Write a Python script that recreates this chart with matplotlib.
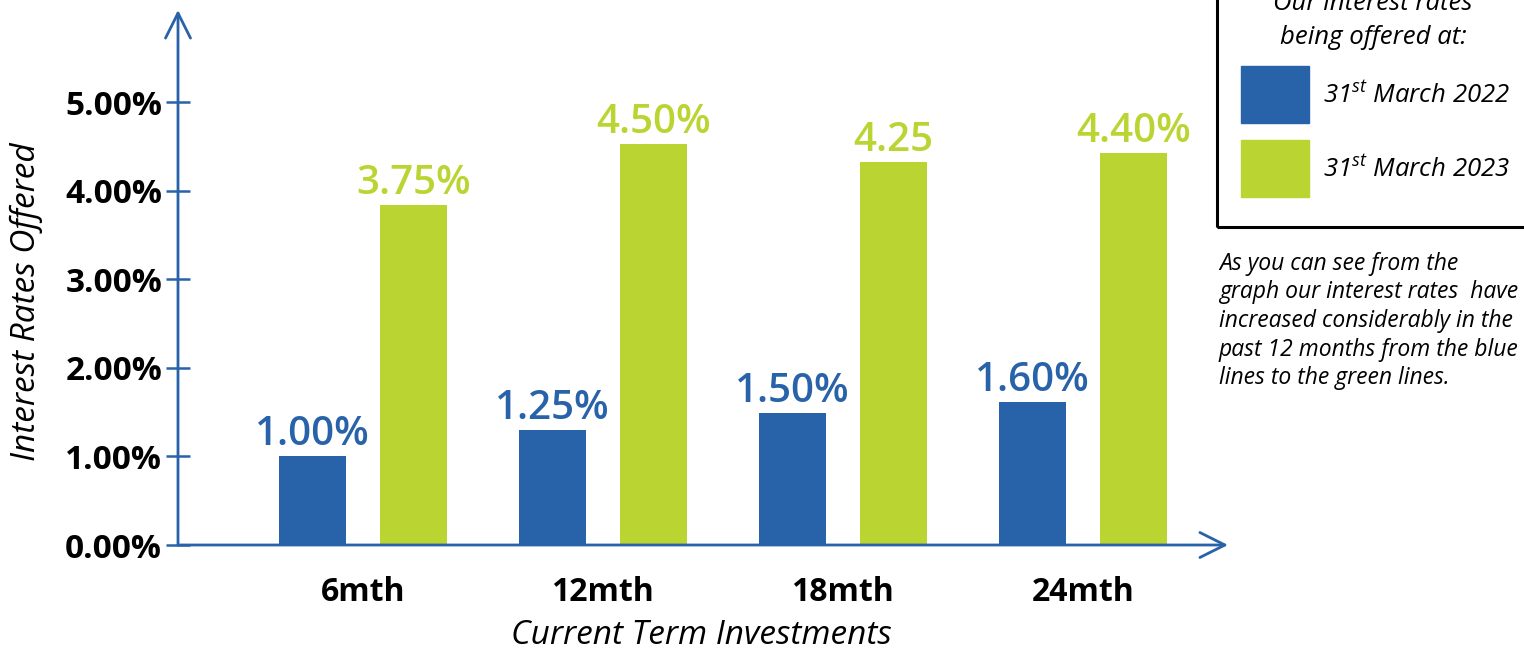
import matplotlib
matplotlib.use("Agg")
import matplotlib.pyplot as plt
from matplotlib.patches import Rectangle

# data
terms = ['6mth', '12mth', '18mth', '24mth']
rates_2022 = [1.00, 1.30, 1.49, 1.61]
rates_2023 = [3.84, 4.53, 4.32, 4.42]
labels_2022 = ['1.00%', '1.25%', '1.50%', '1.60%']
labels_2023 = ['3.75%', '4.50%', '4.25', '4.40%']
yticks = [0, 1, 2, 3, 4, 5]

blue = '#2862a9'
green = '#bad532'
FONT = 'Open Sans'

plt.rcParams['font.family'] = FONT
plt.rcParams['mathtext.fontset'] = 'custom'
plt.rcParams['mathtext.rm'] = 'Open Sans:italic'
plt.rcParams['mathtext.it'] = 'Open Sans:italic'

W, H = 1524, 655
fig = plt.figure(figsize=(W / 100, H / 100), dpi=100)


def fx(px):
    return px / W


def fy(py):
    return 1 - py / H


# axes box in pixels: left 178, right 1228, bottom 545, top 10
ax = fig.add_axes([fx(178), fy(545), fx(1228) - fx(178), fy(10) - fy(545)])
ax.set_xlim(-0.77, 3.605)
ax.set_ylim(0, 6.04)
for s in ax.spines.values():
    s.set_visible(False)

x = list(range(len(terms)))
bw = 0.28
off = 0.21
xb = [i - off for i in x]
xg = [i + off for i in x]
ax.bar(xb, rates_2022, bw, color=blue)
ax.bar(xg, rates_2023, bw, color=green)

for xi, v, lab in zip(xb, rates_2022, labels_2022):
    ax.annotate(lab, (xi, v), xytext=(0, 8), textcoords='offset points',
                ha='center', va='baseline', color=blue, fontsize=29,
                fontweight='semibold')
for xi, v, lab in zip(xg, rates_2023, labels_2023):
    ax.annotate(lab, (xi, v), xytext=(0, 8), textcoords='offset points',
                ha='center', va='baseline', color=green, fontsize=29,
                fontweight='semibold')

# axis arrows
akw = dict(arrowstyle='->,head_length=0.9,head_width=0.45', color=blue,
           lw=2.0, mutation_scale=20, shrinkA=0, shrinkB=0)
ax.annotate('', xy=(0, 1), xytext=(0, 0), xycoords='axes fraction',
            arrowprops=akw, annotation_clip=False)
ax.annotate('', xy=(1, 0), xytext=(0, 0), xycoords='axes fraction',
            arrowprops=akw, annotation_clip=False)

ax.set_yticks(yticks)
ax.set_yticklabels(['%.2f%%' % t for t in yticks], fontsize=24,
                   fontweight='bold')
ax.tick_params(axis='y', direction='inout', length=17, width=1.8,
               color=blue, pad=3)
ax.set_xticks(x)
ax.set_xticklabels(terms, fontsize=23, fontweight='bold')
ax.tick_params(axis='x', length=0, pad=22)

fig.text(fx(701), fy(636), 'Current Term Investments', fontsize=24,
         style='italic', ha='center', va='center')
fig.text(fx(26), fy(302), 'Interest Rates Offered', fontsize=24,
         style='italic', ha='center', va='center', rotation=90)

# legend box (top and right edges run off the picture)
fig.patches.append(Rectangle((fx(1217), fy(227)), fx(1540) - fx(1217),
                             fy(-20) - fy(227), transform=fig.transFigure,
                             fill=False, ec='black', lw=2.2))
fig.text(fx(1373), fy(3), 'Our interest rates', fontsize=18.5, style='italic',
         ha='center', va='center')
fig.text(fx(1373), fy(38), 'being offered at:', fontsize=18.5, style='italic',
         ha='center', va='center')
for col, py, lab in [(blue, 66, r'$31^{st}$ March 2022'),
                     (green, 140, r'$31^{st}$ March 2023')]:
    fig.patches.append(Rectangle((fx(1241), fy(py + 57)), fx(1309) - fx(1241),
                                 fy(py) - fy(py + 57),
                                 transform=fig.transFigure, color=col))
    fig.text(fx(1323), fy(py + 29), lab, fontsize=18.5, style='italic',
             ha='left', va='center')

note = ['As you can see from the',
        'graph our interest rates  have',
        'increased considerably in the',
        'past 12 months from the blue',
        'lines to the green lines.']
for i, line in enumerate(note):
    fig.text(fx(1219), fy(264 + 28.5 * i), line, fontsize=16.5,
             style='italic', ha='left', va='center')

fig.savefig('out.png', dpi=100)
